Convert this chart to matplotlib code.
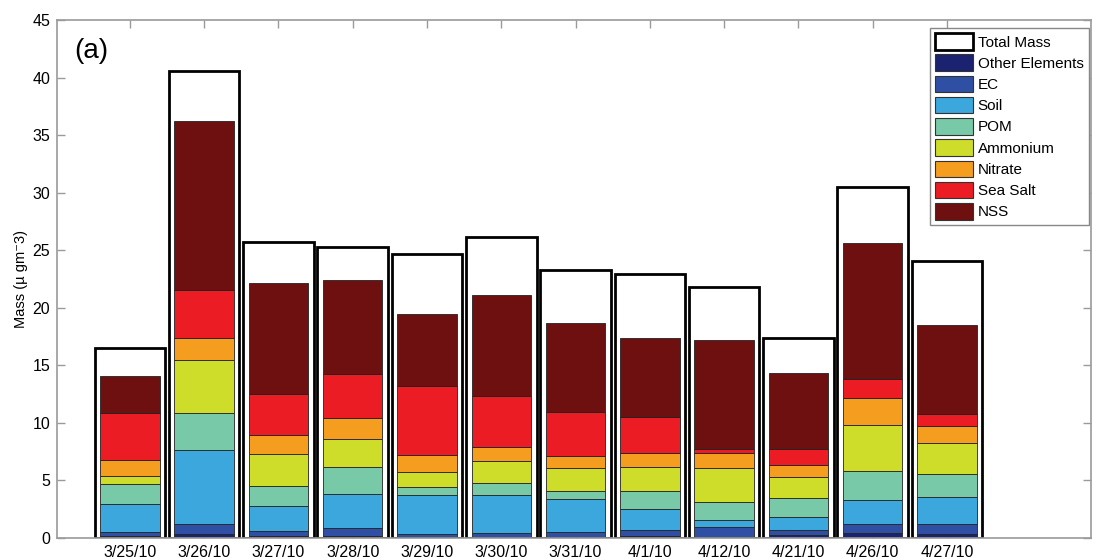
import matplotlib.pyplot as plt
import numpy as np
from matplotlib.patches import Patch

plt.rcParams.update({'font.size': 11, 'font.family': ['Liberation Sans', 'DejaVu Sans']})

dates = ['3/25/10', '3/26/10', '3/27/10', '3/28/10', '3/29/10', '3/30/10',
         '3/31/10', '4/1/10', '4/12/10', '4/21/10', '4/26/10', '4/27/10']

total_mass = [16.5, 40.6, 25.7, 25.3, 24.7, 26.1, 23.3, 22.9, 21.8, 17.4, 30.5, 24.05]

# species masses (ug/m3), stacked bottom to top
other_el = [0.15, 0.30, 0.15, 0.15, 0.10, 0.10, 0.10, 0.15, 0.10, 0.20, 0.39, 0.30]
ec       = [0.33, 0.90, 0.44, 0.70, 0.20, 0.32, 0.43, 0.53, 0.88, 0.48, 0.78, 0.90]
soil     = [2.42, 6.42, 2.17, 2.92, 3.39, 3.27, 2.84, 1.85, 0.54, 1.16, 2.08, 2.32]
pom      = [1.74, 3.24, 1.71, 2.40, 0.69, 1.04, 0.69, 1.53, 1.60, 1.59, 2.55, 2.02]
ammonium = [0.72, 4.57, 2.83, 2.43, 1.36, 1.91, 2.03, 2.09, 2.97, 1.82, 3.96, 2.66]
nitrate  = [1.39, 1.94, 1.60, 1.77, 1.48, 1.27, 0.98, 1.21, 1.24, 1.10, 2.40, 1.53]
sea_salt = [4.08, 4.13, 3.58, 3.88, 5.96, 4.43, 3.88, 3.18, 0.41, 1.33, 1.60, 0.99]
nss      = [3.22, 14.70, 9.67, 8.13, 6.31, 8.80, 7.75, 6.83, 9.43, 6.68, 11.83, 7.78]

species = [
    ('Other Elements', other_el, '#1b2370'),
    ('EC', ec, '#2e4fa3'),
    ('Soil', soil, '#3ba7dd'),
    ('POM', pom, '#77c9a7'),
    ('Ammonium', ammonium, '#cedd2a'),
    ('Nitrate', nitrate, '#f59d1f'),
    ('Sea Salt', sea_salt, '#ec1c24'),
    ('NSS', nss, '#6e0f10'),
]

x = np.arange(1, len(dates) + 1)

fig = plt.figure(figsize=(10.93, 5.58), dpi=100)
ax = fig.add_axes([0.0522, 0.0362, 0.946, 0.928])

# total mass as open bars behind the stacks
ax.bar(x, total_mass, width=0.95, color='white', edgecolor='black', linewidth=2.0, zorder=1)

bottom = np.zeros(len(dates))
for name, vals, col in species:
    ax.bar(x, vals, width=0.8, bottom=bottom, color=col, edgecolor='#222222',
           linewidth=0.6, zorder=2)
    bottom += np.array(vals)

ax.set_xlim(0.02, 13.94)
ax.set_ylim(0, 45)
ax.set_yticks(np.arange(0, 46, 5))
ax.set_xticks(x)
ax.set_xticklabels(dates, fontsize=12)
ax.set_ylabel('Mass (µ gm⁻3)', fontsize=10.5, labelpad=3)

for s in ax.spines.values():
    s.set_color('#9a9a9a')
    s.set_linewidth(1.2)
ax.tick_params(direction='in', length=6, color='#9a9a9a', width=1.0,
               top=True, right=True, labelsize=11.5, pad=5)

ax.text(0.017, 0.94, '(a)', transform=ax.transAxes, fontsize=20, va='center')

handles = [Patch(facecolor='white', edgecolor='black', linewidth=2.0, label='Total Mass')]
handles += [Patch(facecolor=col, edgecolor='#333333', linewidth=0.8, label=name)
            for name, vals, col in species]
leg = ax.legend(handles=handles, loc='upper right', bbox_to_anchor=(0.998, 0.985),
                fontsize=11, fancybox=False, framealpha=1, edgecolor='#888888',
                handlelength=2.5, handleheight=1.3, handletextpad=0.3,
                labelspacing=0.3, borderpad=0.35, borderaxespad=0)
leg.get_frame().set_linewidth(1.0)

plt.savefig('out.png', dpi=100)
